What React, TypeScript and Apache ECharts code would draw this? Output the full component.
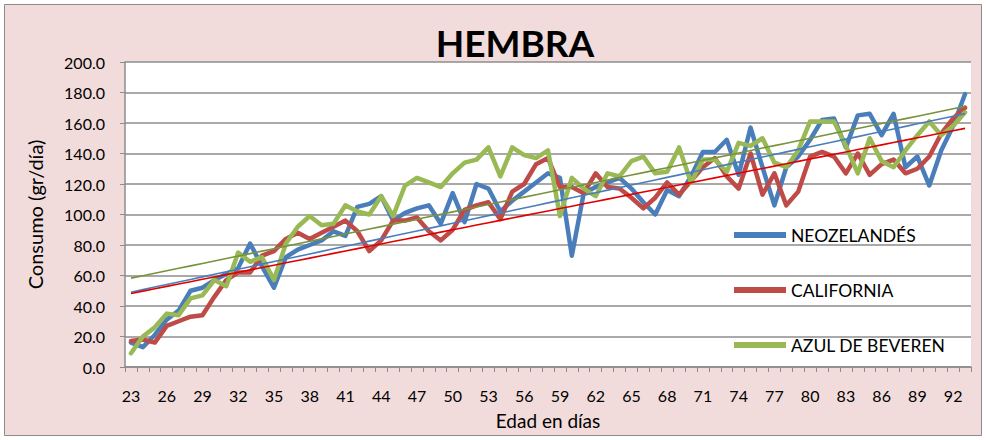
import React, { useEffect, useRef } from "react";
import * as echarts from "echarts";

const days: string[] = [
  "23","24","25","26","27","28","29","30","31","32","33","34","35","36","37","38","39","40",
  "41","42","43","44","45","46","47","48","49","50","51","52","53","54","55","56","57","58",
  "59","60","61","62","63","64","65","66","67","68","69","70","71","72","73","74","75","76",
  "77","78","79","80","81","82","83","84","85","86","87","88","89","90","91","92","93",
];

const neozelandes: number[] = [
  16, 13, 21, 31, 37, 50, 52, 57, 61, 65, 81, 66, 52, 72, 77, 80, 83, 89,
  86, 105, 107, 112, 96, 101, 104, 106, 94, 114, 95, 120, 117, 102, 109, 115, 121, 127,
  124, 73, 114, 118, 121, 124, 117, 108, 100, 116, 112, 125, 141, 141, 149, 126, 157, 131,
  106, 131, 138, 149, 162, 163, 144, 165, 166, 152, 166, 131, 138, 119, 142, 158, 179,
];

const california: number[] = [
  17, 18, 16, 27, 30, 33, 34, 46, 57, 62, 62, 73, 76, 84, 88, 84, 88, 92,
  96, 89, 76, 83, 96, 96, 98, 89, 83, 90, 103, 106, 108, 97, 115, 120, 133, 137,
  118, 118, 114, 127, 118, 117, 111, 104, 111, 121, 113, 122, 131, 137, 125, 117, 140, 113,
  127, 106, 115, 138, 141, 138, 127, 140, 126, 133, 136, 127, 130, 138, 153, 163, 170,
];

const azulDeBeveren: number[] = [
  9, 20, 26, 35, 34, 45, 47, 57, 53, 75, 69, 72, 57, 81, 92, 99, 93, 94,
  106, 102, 100, 112, 99, 119, 124, 121, 118, 127, 134, 136, 144, 125, 144, 139, 137, 142,
  99, 124, 117, 112, 127, 125, 135, 138, 127, 128, 144, 121, 136, 136, 128, 147, 145, 150,
  134, 131, 142, 161, 161, 161, 145, 127, 150, 135, 131, 142, 152, 161, 152, 158, 167,
];

const yTicks = { min: 0, max: 200, interval: 20 };

const FONT = "Lato, 'Open Sans', sans-serif";

function linearTrend(values: number[]): number[] {
  const n = values.length;
  let sx = 0, sy = 0, sxx = 0, sxy = 0;
  values.forEach((v, i) => {
    sx += i; sy += v; sxx += i * i; sxy += i * v;
  });
  const b = (n * sxy - sx * sy) / (n * sxx - sx * sx);
  const a = (sy - b * sx) / n;
  return values.map((_, i) => +(a + b * i).toFixed(3));
}

export default function App() {
  const ref = useRef<HTMLDivElement>(null);
  useEffect(() => {
    if (!ref.current) return;
    const chart = echarts.init(ref.current, undefined, { renderer: "svg" });
    const mk = (name: string, data: number[], color: string) => ({
      name,
      type: "line",
      data,
      symbol: "none",
      showSymbol: false,
      color,
      lineStyle: { width: 4.5, color, join: "round", cap: "round" },
      z: 2,
    });
    const tr = (name: string, data: number[], color: string) => ({
      name,
      type: "line",
      data: linearTrend(data),
      symbol: "none",
      showSymbol: false,
      color,
      lineStyle: { width: 1.6, color },
      z: 3,
      silent: true,
    });
    chart.setOption({
      animation: false,
      backgroundColor: "#ffffff",
      textStyle: { fontFamily: FONT },
      graphic: [
        {
          type: "rect",
          z: -10,
          shape: { x: 4.5, y: 4.5, width: 977, height: 431 },
          style: { fill: "#F2DCDB", stroke: "#8c8c8c", lineWidth: 1 },
        },
      ],
      title: {
        text: "HEMBRA",
        left: 510,
        textAlign: "center",
        top: 19,
        textStyle: { fontFamily: FONT, fontWeight: "bold", fontSize: 37, color: "#000" },
      },
      legend: {
        data: ["NEOZELANDÉS", "CALIFORNIA", "AZUL DE BEVEREN"],
        orient: "vertical",
        left: 729,
        top: 220,
        icon: "rect",
        itemWidth: 52,
        itemHeight: 6,
        itemGap: 35,
        textStyle: { fontFamily: FONT, fontSize: 17.5, color: "#000", lineHeight: 20 },
      },
      grid: {
        left: 125,
        right: 15,
        top: 62,
        bottom: 73,
        show: true,
        backgroundColor: "#ffffff",
        borderWidth: 0,
      },
      xAxis: {
        type: "category",
        data: days,
        boundaryGap: true,
        name: "Edad en días",
        nameLocation: "middle",
        nameGap: 44,
        nameTextStyle: { fontFamily: FONT, fontSize: 19, color: "#000" },
        axisLine: { lineStyle: { color: "#8c8c8c", width: 1.5 } },
        axisTick: { show: true, interval: 0, length: 5, lineStyle: { color: "#8c8c8c" } },
        axisLabel: { interval: 2, fontSize: 16, color: "#000", margin: 20, fontFamily: FONT },
        splitLine: { show: false },
      },
      yAxis: {
        type: "value",
        min: yTicks.min,
        max: yTicks.max,
        interval: yTicks.interval,
        name: "Consumo (gr/día)",
        nameLocation: "middle",
        nameGap: 80,
        nameTextStyle: { fontFamily: FONT, fontSize: 20, color: "#000" },
        axisLine: { show: true, lineStyle: { color: "#8c8c8c", width: 1.5 } },
        axisTick: { show: true, length: 5, lineStyle: { color: "#8c8c8c" } },
        axisLabel: {
          fontSize: 16,
          color: "#000",
          margin: 20,
          fontFamily: FONT,
          formatter: (v: number) => v.toFixed(1),
        },
        splitLine: { show: true, lineStyle: { color: "#8c8c8c", width: 1.5 } },
      },
      series: [
        mk("NEOZELANDÉS", neozelandes, "#4A7EBB"),
        mk("CALIFORNIA", california, "#BE4B48"),
        mk("AZUL DE BEVEREN", azulDeBeveren, "#98B954"),
        tr("Lineal (NEOZELANDÉS)", neozelandes, "#4A7EBB"),
        tr("Lineal (CALIFORNIA)", california, "#E00000"),
        tr("Lineal (AZUL DE BEVEREN)", azulDeBeveren, "#77933C"),
      ],
    });
    return () => chart.dispose();
  }, []);
  return (
    <div
      ref={ref}
      style={{ position: "absolute", left: 0, top: 0, width: 986, height: 440 }}
    />
  );
}
